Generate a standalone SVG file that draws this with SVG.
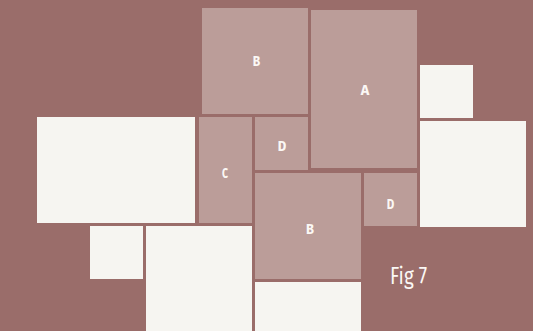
<svg xmlns="http://www.w3.org/2000/svg" width="533" height="331" viewBox="0 0 533 331">
  <style>
    .bg { fill: #9a6d6a; }
    .pink { fill: #bb9d99; }
    .white { fill: #f6f5f1; }
    .lbl { font-family: "Fira Sans", "Noto Sans", "DejaVu Sans", sans-serif; font-weight: bold; font-size: 15px; fill: #fbf8f5; text-anchor: middle; }
    .fig { font-family: "Fira Sans", "Noto Sans", "DejaVu Sans", sans-serif; font-size: 23px; fill: #fbf8f5; }
  </style>
  <rect class="bg" x="0" y="0" width="533" height="331"/>
  <g id="node-B1"><rect class="pink" x="202" y="8" width="106" height="106"/><text class="lbl" x="256.5" y="66" textLength="7.5" lengthAdjust="spacingAndGlyphs">B</text></g>
  <g id="node-A"><rect class="pink" x="311" y="10" width="106" height="158"/><text class="lbl" x="365" y="95" textLength="8.5" lengthAdjust="spacingAndGlyphs">A</text></g>
  <g id="node-C"><rect class="pink" x="199" y="117" width="53" height="106"/><text class="lbl" x="225" y="178" textLength="6" lengthAdjust="spacingAndGlyphs">C</text></g>
  <g id="node-D1"><rect class="pink" x="255" y="117" width="53" height="53"/><text class="lbl" x="282" y="150.5" textLength="8.5" lengthAdjust="spacingAndGlyphs">D</text></g>
  <g id="node-B2"><rect class="pink" x="255" y="173" width="106" height="106"/><text class="lbl" x="310" y="234" textLength="8" lengthAdjust="spacingAndGlyphs">B</text></g>
  <g id="node-D2"><rect class="pink" x="364" y="173" width="53" height="53"/><text class="lbl" x="390.5" y="208.5" textLength="7.5" lengthAdjust="spacingAndGlyphs">D</text></g>
  <g id="node-w1"><rect class="white" x="420" y="65" width="53" height="53"/></g>
  <g id="node-w2"><rect class="white" x="420" y="121" width="106" height="106"/></g>
  <g id="node-w3"><rect class="white" x="37" y="117" width="158" height="106"/></g>
  <g id="node-w4"><rect class="white" x="90" y="226" width="53" height="53"/></g>
  <g id="node-w5"><rect class="white" x="146" y="226" width="106" height="106"/></g>
  <g id="node-w6"><rect class="white" x="255" y="282" width="106" height="50"/></g>
  <g id="connectors"></g>
  <text class="fig" x="390" y="284" textLength="37" lengthAdjust="spacingAndGlyphs">Fig 7</text>
</svg>
